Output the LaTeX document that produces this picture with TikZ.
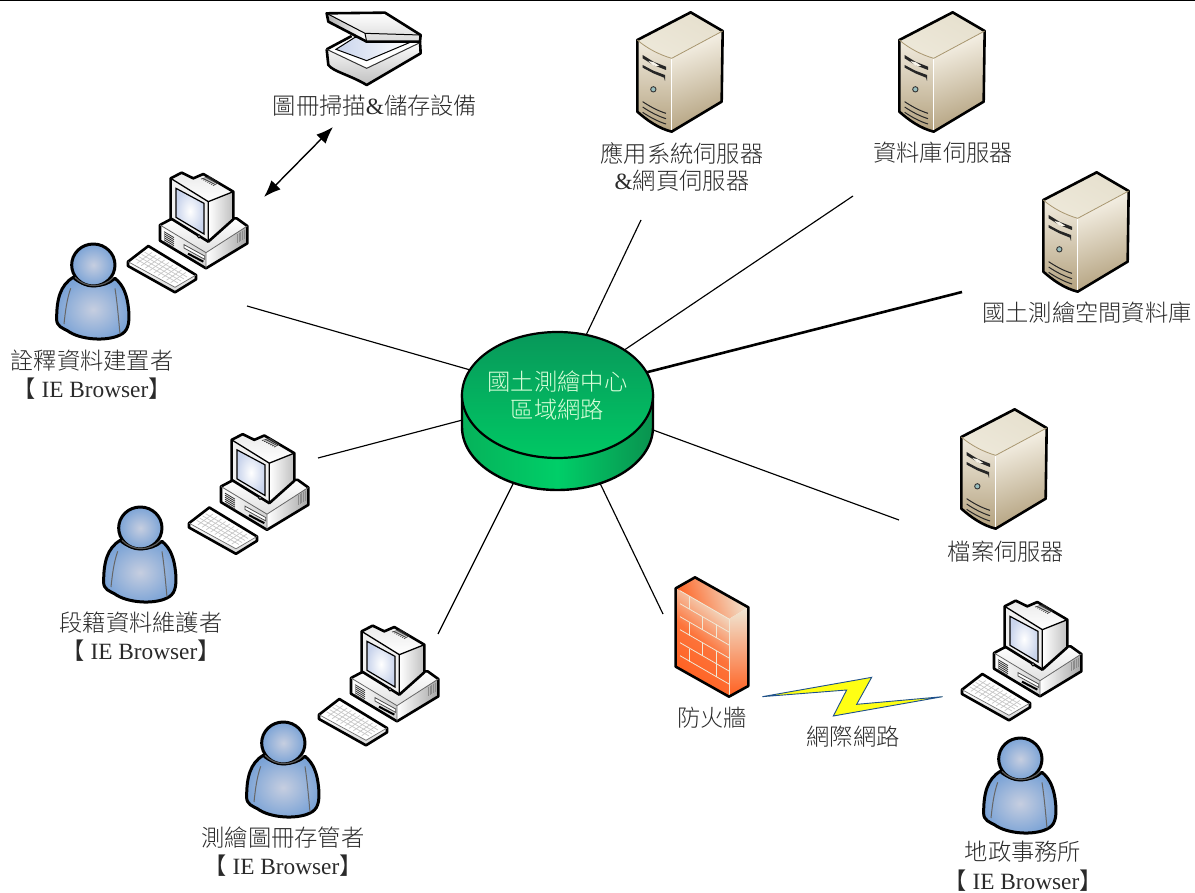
\documentclass[tikz,border=0pt]{standalone}
\usepackage{fontspec}
\setmainfont{Liberation Serif}
\newfontfamily\cjk[UprightFont=* Light]{Noto Sans CJK TC}
\usetikzlibrary{arrows.meta,backgrounds,shapes.geometric,shadings,calc}
\definecolor{ink}{HTML}{2A2A2A}
\definecolor{cream}{HTML}{F8F4EA}
\definecolor{creamB}{HTML}{E6E0CE}
\definecolor{tan}{HTML}{B3A17E}
\definecolor{tanD}{HTML}{A8966F}
\definecolor{userIn}{HTML}{C6CEE0}
\definecolor{userOut}{HTML}{7BA3D6}
\definecolor{hubL}{HTML}{06B25A}
\definecolor{hubM}{HTML}{00CE68}
\definecolor{hubR}{HTML}{0A924F}
\definecolor{hubT}{HTML}{08985A}
\definecolor{hubB}{HTML}{00C864}
\definecolor{fireO}{HTML}{FF5F1F}
\definecolor{fireP}{HTML}{F0E8D6}
\definecolor{glass}{HTML}{C9D4EC}
\tikzset{
  link/.style={line width=1.15pt,black},
  boldlink/.style={line width=2.6pt,black},
  edge/.style={draw=black,line width=2.6pt,line join=round},
  label/.style={font=\fontsize{23.3}{27}\selectfont\cjk,text=ink,inner sep=0pt,align=center},
  browser/.style={font=\fontsize{23.3}{27}\selectfont,text=ink,inner sep=0pt},
  /tikz/px3/.style={x=0.33333pt,y=-0.33333pt},
  srv/.pic={
    \begin{scope}[px3]
      \shade[top color=creamB,bottom color=creamB!60!cream,shading angle=-30] (52,105) -- (212,22) -- (308,78) -- (155,160) .. controls (120,150) and (80,130) .. cycle;
      \shade[left color=cream,right color=tan,shading angle=20] (155,160) -- (308,78) -- (305,290) -- (155,380) -- cycle;
      \shade[top color=cream!90!tan,bottom color=tan] (52,105) .. controls (80,130) and (120,150) .. (155,160) -- (155,380) .. controls (115,370) and (80,345) .. (52,320) -- cycle;
      \draw[white,line width=1pt] (155,160) -- (155,380);
      \draw[edge] (52,105) -- (212,22) -- (308,78) -- (305,290) -- (155,380) .. controls (115,370) and (80,345) .. (52,320) -- cycle;
      \draw[line width=.8pt,tanD] (52,105) .. controls (80,130) and (120,150) .. (155,160) -- (308,78);
      \fill[black!85] (68,150) -- (100,170) -- (138,185) -- (138,195) -- (100,180) -- (68,160) -- cycle;
      \fill[cream] (85,168) -- (102,172) -- (118,183) -- (100,182) -- cycle;
      \fill[black!85] (68,180) -- (100,197) -- (135,210) -- (135,228) -- (132,218) -- (100,205) -- (68,188) -- cycle;
      \fill[black!25!teal!40!white,draw=black!80,line width=.9pt] (100,253) circle[radius=8];
      \foreach \d in {0,16,32}{
        \draw[black!85,line width=1pt] (68,290+\d) .. controls (90,305+\d) and (115,318+\d) .. (138,325+\d);
      }
    \end{scope}
  },
  cmp/.pic={
    \begin{scope}[px3]
      % keyboard
      \fill[white] (264,305) -- (325,258) -- (468,345) -- (405,395) -- cycle;
      \shade[top color=white,bottom color=black!15] (264,305) -- (405,380) -- (468,345) -- (468,358) -- (405,395) -- (264,318) -- cycle;
      \draw[edge] (264,305) -- (325,258) -- (468,345) -- (468,358) -- (405,397) -- (264,318) -- cycle;
      \draw[black!55,line width=.7pt] (264,305) -- (405,382) -- (468,345);
      \foreach \t in {0.2,0.4,0.6,0.8}{
        \draw[black!22,line width=.7pt] ($(278,303)!\t!(323,270)$) -- ($(405,375)!\t!(450,345)$);
      }
      \foreach \t in {0.1,0.2,...,0.95}{
        \draw[black!22,line width=.7pt] ($(278,303)!\t!(405,375)$) -- ($(323,270)!\t!(450,345)$);
      }
      % base
      \shade[top color=white,bottom color=black!12] (360,195) -- (392,178) -- (590,175) -- (622,198) -- (498,278) -- cycle;
      \shade[left color=white,right color=black!18] (360,195) -- (498,278) -- (498,325) -- (360,242) -- cycle;
      \shade[left color=white,right color=black!35] (498,278) -- (622,198) -- (622,250) -- (498,325) -- cycle;
      \draw[edge] (360,195) -- (392,178) -- (590,175) -- (622,198) -- (622,250) -- (498,325) -- (360,242) -- cycle;
      \draw[black!60,line width=.8pt] (360,195) -- (498,278) -- (622,198) (498,278) -- (498,325);
      \foreach \d in {0,6,...,30}{ \draw[black!80,line width=.8pt] (372,215+\d) -- (402,233+\d); }
      \foreach \d in {0,5,...,20}{ \draw[black!45,line width=.7pt] (592+\d,222-\d*.6) -- (592+\d,250-\d*.6); }
      \draw[black!70,fill=white,line width=.8pt] (432,254) -- (494,288) -- (494,298) -- (432,264) -- cycle;
      \draw[black,line width=2pt] (444,281) -- (490,305);
      % monitor
      \shade[left color=white,right color=black!25] (505,125) -- (580,95) -- (580,178) -- (505,245) -- cycle;
      \shade[top color=black!8,bottom color=white] (392,55) -- (425,38) -- (460,55) -- (490,42) -- (580,95) -- (505,125) -- cycle;
      \fill[black!6] (392,55) -- (505,125) -- (505,245) -- (392,175) -- cycle;
      \draw[edge] (392,55) -- (425,38) -- (460,55) -- (490,42) -- (580,95) -- (580,178) -- (505,245) -- (392,175) -- cycle;
      \draw[black,line width=1.3pt] (392,55) -- (505,125) -- (505,245) (505,125) -- (580,95);
      \shade[inner color=white,outer color=glass,draw=black,line width=1.2pt] (408,85) -- (492,130) -- (492,222) -- (408,172) -- cycle;
      \foreach \d in {0,6,...,36}{ \draw[black!75,line width=.8pt] (483+\d,57+\d*.55) -- (510+\d*.7,50+\d*.5); }
      \draw[black,fill=black!30,line width=.8pt] (477,229) circle[radius=5];
    \end{scope}
  },
  usr/.pic={
    \begin{scope}[px3]
      \shade[inner color=userIn,outer color=userOut,edge,line width=3pt]
        (100,352) .. controls (60,375) and (50,420) .. (50,475) .. controls (48,500) and (70,505) .. (82,512)
        .. controls (120,540) and (200,545) .. (240,525) .. controls (262,515) and (270,495) .. (266,450)
        .. controls (262,405) and (250,375) .. (225,355) .. controls (190,385) and (135,385) .. cycle;
      \draw[black!60,line width=1pt] (92,385) .. controls (80,420) and (76,455) .. (72,492);
      \draw[black!60,line width=1pt] (225,385) .. controls (232,430) and (236,480) .. (240,522);
      \shade[inner color=userIn,outer color=userOut,edge,line width=3pt] (160,315) ellipse[x radius=65,y radius=63];
      \draw[black!65,line width=1.2pt] (105,352) .. controls (135,385) and (190,385) .. (220,352);
    \end{scope}
  },
}
\begin{document}
\begin{tikzpicture}[x=1pt,y=-1pt]
\useasboundingbox (0,0) rectangle (1195,893);
\draw[line width=1.6pt] (0,0.6) -- (1195,0.6);

% hub
\path[draw=black,line width=2.4pt,left color=hubL,right color=hubR,middle color=hubM]
  (462,395) -- (462,427) .. controls (462,461.8) and (504.7,490) .. (557.5,490)
  .. controls (610.3,490) and (653,461.8) .. (653,427) -- (653,395) -- cycle;
\node[ellipse,draw=black,line width=2.2pt,minimum width=191pt,minimum height=126pt,inner sep=0pt,
  top color=hubT,bottom color=hubB] (hub) at (557.5,395) {};
\node[label,text=white!85!green] (hubt1) at (557.5,382) {國土測繪中心};
\node[label,text=white!85!green] (hubt2) at (557.5,410) {區域網路};

% free ends of the connectors
\coordinate (eA) at (247,306);
\coordinate (eB) at (318,458);
\coordinate (eC) at (438,634);
\coordinate (eD) at (663,614);
\coordinate (eE) at (899,520);
\coordinate (eF) at (962,292);
\coordinate (eG) at (853,196);
\coordinate (eH) at (641,220);
\coordinate (scanEnd) at (333,127);
\coordinate (pcEnd) at (264,197);

\begin{scope}[on background layer]
  \foreach \e in {eA,eB,eC,eD,eE,eG,eH}{ \draw[link] (hub.center) -- (\e); }
  \draw[boldlink] (hub.center) -- (eF);
\end{scope}
\draw[{Latex[length=17pt,width=13pt]}-{Latex[length=17pt,width=13pt]},line width=1.4pt] (scanEnd) -- (pcEnd);

% scanner
\begin{scope}[shift={(310,0)},px3]
  \shade[top color=white,bottom color=black!25] (50,148) -- (170,205) -- (330,125) -- (332,160) -- (170,255) -- (55,195) -- cycle;
  \fill[white] (50,148) -- (125,108) -- (330,125) -- (170,205) -- cycle;
  \shade[left color=glass,right color=white,draw=black,line width=1pt] (78,148) -- (135,112) -- (298,128) -- (170,182) -- cycle;
  \draw[edge] (50,148) -- (125,108) (330,125) -- (332,160) -- (170,255) .. controls (120,225) and (70,215) .. (55,195) -- (50,148);
  \draw[black!80,line width=1pt] (50,148) -- (170,205) -- (330,128);
  \shade[top color=white,bottom color=black!15] (50,40) -- (225,38) -- (332,105) -- (330,125) -- (170,125) -- (165,100) -- cycle;
  \shade[left color=black!30,right color=white] (50,40) -- (165,100) -- (170,125) -- (55,65) -- cycle;
  \draw[edge] (50,40) -- (225,38) -- (332,105) -- (330,125) -- (170,125) -- (55,65) -- cycle;
  \draw[black,line width=1pt] (50,40) -- (165,100) -- (170,125) (165,100) -- (332,105);
\end{scope}

% servers
\pic (s1) at (620,5) {srv};
\pic (s2) at (882,5) {srv};
\pic (s3) at (1026,165) {srv};
\pic (s4) at (944,402) {srv};

% computers and people
\pic (c1) at (40,160) {cmp};
\pic (c2) at (101,421.5) {cmp};
\pic (c3) at (231,613) {cmp};
\pic (c4) at (874,588) {cmp};
\pic (u1) at (40,160) {usr};
\pic (u2) at (87,423) {usr};
\pic (u3) at (230,638) {usr};
\pic (u4) at (967,654) {usr};

% firewall
\begin{scope}[shift={(660,570)},px3]
  \shade[bottom color=fireO,top color=fireP,shading angle=-70] (47,55) -- (105,22) -- (265,112) -- (207,147) -- cycle;
  \shade[top color=fireP,bottom color=fireO] (207,147) -- (265,112) -- (265,348) -- (207,380) -- cycle;
  \shade[bottom color=fireO,top color=fireP,middle color=fireO!85!fireP,shading angle=-40] (47,55) -- (207,147) -- (207,380) -- (47,290) -- cycle;
  \foreach \d in {0,39,78,117,156,195}{
    \draw[fireP,line width=.8pt] (60,62+\d) -- (207,147+\d);
  }
  \draw[fireP,line width=.8pt] (207,147) -- (207,380);
  \draw[fireP,line width=.8pt]
    (88,78) -- (88,118) (128,140) -- (128,180) (168,163) -- (168,203)
    (88,157) -- (88,197) (128,219) -- (128,259) (168,242) -- (168,282)
    (88,236) -- (88,276) (168,282) -- (168,322);
  \draw[edge] (47,55) -- (105,22) -- (265,112) -- (265,348) -- (207,380) -- (47,290) -- cycle;
\end{scope}

% lightning
\begin{scope}[shift={(660,570)},px3]
  \draw[draw={rgb,255:red,30;green,80;blue,140},line width=.9pt,fill={rgb,255:red,255;green,255;blue,20}]
    (307,380) -- (635,322) -- (590,403) -- (848,380) -- (520,438) -- (560,360) -- cycle;
\end{scope}

% labels
\node[label] (lscan) at (375,106) {圖冊掃描\textnormal{\&}儲存設備};
\node[label] (ls1a) at (682,153) {應用系統伺服器};
\node[label] (ls1b) at (682,181) {\textnormal{\&}網頁伺服器};
\node[label] (ls2) at (943,153) {資料庫伺服器};
\node[label] (ls3) at (1087,313) {國土測繪空間資料庫};
\node[label] (ls4) at (1006,552) {檔案伺服器};
\node[label] (lfw) at (712,718) {防火牆};
\node[label] (lnet) at (853,737) {網際網路};
\node[label] (lu1) at (92,361) {詮釋資料建置者};
\node[browser] (lb1) at (92,389) {{\cjk 【} IE Browser{\cjk 】}};
\node[label] (lu2) at (141,623) {段籍資料維護者};
\node[browser] (lb2) at (141,651) {{\cjk 【} IE Browser{\cjk 】}};
\node[label] (lu3) at (283,838) {測繪圖冊存管者};
\node[browser] (lb3) at (283,866) {{\cjk 【} IE Browser{\cjk 】}};
\node[label] (lu4) at (1023,852) {地政事務所};
\node[browser] (lb4) at (1023,881) {{\cjk 【} IE Browser{\cjk 】}};
\end{tikzpicture}
\end{document}
